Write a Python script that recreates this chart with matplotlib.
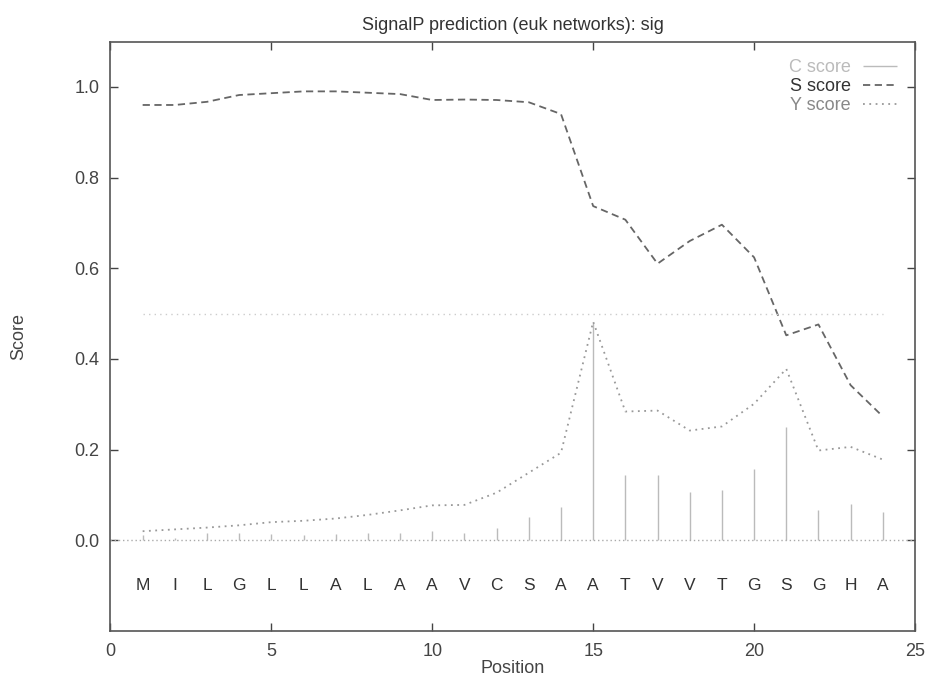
import numpy as np
import matplotlib
matplotlib.use("Agg")
import matplotlib.pyplot as plt

plt.rcParams['font.family'] = ['Liberation Sans', 'DejaVu Sans']

# sequence and per-residue scores
residues = list("MILGLLALAAVCSAATVVTGSGHA")
positions = np.arange(1, len(residues) + 1)

c_score = [0.011, 0.005, 0.015, 0.017, 0.013, 0.011, 0.013, 0.015, 0.017, 0.020,
           0.015, 0.026, 0.052, 0.073, 0.480, 0.144, 0.143, 0.106, 0.110, 0.158,
           0.250, 0.067, 0.081, 0.062]
s_score = [0.960, 0.960, 0.967, 0.982, 0.986, 0.990, 0.990, 0.987, 0.984, 0.971,
           0.972, 0.971, 0.966, 0.940, 0.737, 0.707, 0.610, 0.660, 0.696, 0.624,
           0.452, 0.476, 0.342, 0.273]
y_score = [0.020, 0.024, 0.028, 0.033, 0.040, 0.043, 0.048, 0.056, 0.066, 0.077,
           0.078, 0.105, 0.149, 0.193, 0.482, 0.284, 0.286, 0.242, 0.251, 0.301,
           0.378, 0.198, 0.206, 0.178]
cutoff = 0.5

fig = plt.figure(figsize=(9.26, 6.77), dpi=100)
ax = fig.add_axes([0.1193, 0.068, 0.8688, 0.8707])

# C score as impulses
ax.vlines(positions, 0, c_score, color='#bbbbbb', lw=1.0, label='C score')
ax.plot(positions, s_score, color='#666666', lw=1.3, ls=(0, (4, 2.5)), label='S score')
ax.plot(positions, y_score, color='#999999', lw=1.3, ls=(0, (1, 2.5)), label='Y score')

# zero line and cutoff
ax.axhline(0, color='#aaaaaa', lw=1.0, ls=(0, (1, 2)))
ax.plot([positions[0], positions[-1]], [cutoff, cutoff], color='#cccccc', lw=1.0, ls=(0, (1, 3)))

for p, r in zip(positions, residues):
    ax.text(p, -0.1, r, ha='center', va='center', fontsize=12.5, color='#333333')

ax.set_xlim(0, 25)
ax.set_ylim(-0.2, 1.1)
ax.set_xticks(np.arange(0, 26, 5))
ax.set_yticks(np.arange(0, 1.01, 0.2))
ax.set_yticklabels(['0.0', '0.2', '0.4', '0.6', '0.8', '1.0'])
ax.tick_params(direction='in', length=6, width=1.0, color='#444444',
               top=True, right=True, labelsize=13, labelcolor='#444444')
ax.tick_params(axis='y', pad=8)
ax.tick_params(axis='x', pad=9)
for s in ax.spines.values():
    s.set_color('#555555')
    s.set_linewidth(1.2)

ax.set_xlabel('Position', fontsize=13, color='#444444', labelpad=0)
ax.set_ylabel('Score', fontsize=13, color='#444444', labelpad=34)
ax.set_title('SignalP prediction (euk networks): sig', fontsize=13, color='#333333', pad=8)

leg = ax.legend(loc='upper right', bbox_to_anchor=(897 / 926, 1 - 59 / 677),
                bbox_transform=fig.transFigure, frameon=False, markerfirst=False,
                fontsize=13, handlelength=1.9, handletextpad=0.65, labelspacing=0.12,
                borderaxespad=0, borderpad=0)
for txt, col in zip(leg.get_texts(), ['#bbbbbb', '#333333', '#888888']):
    txt.set_color(col)

fig.savefig('out.png', dpi=100, facecolor='white')
